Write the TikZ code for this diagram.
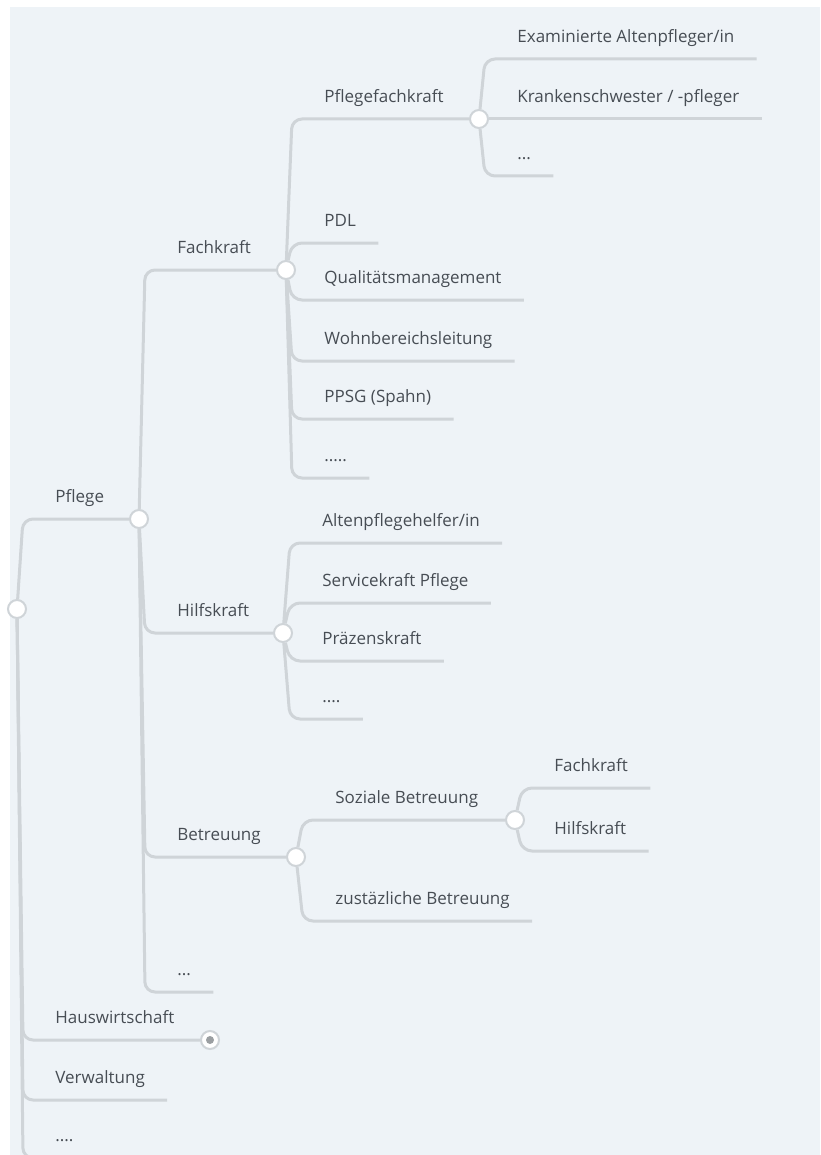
\documentclass[tikz,border=0pt]{standalone}
\usepackage{fontspec}
\setmainfont{Open Sans}
\definecolor{bgcol}{HTML}{EEF3F7}
\definecolor{linecol}{HTML}{CFD4D8}
\definecolor{textcol}{HTML}{474D54}

\begin{document}
\begin{tikzpicture}[x=0.5pt,y=-0.5pt,
  topic/.style={anchor=south west, inner xsep=11pt, inner ysep=6pt,
    text height=6.3pt, text depth=2pt, text=textcol,
    font=\fontsize{8.5pt}{10pt}\selectfont},
  knob/.style={circle, draw=linecol, line width=1pt, fill=white,
    minimum size=9pt, inner sep=0pt},
  fold/.style={knob, path picture={\fill[linecol!75!black]
    (path picture bounding box.center) circle (2pt);}},
  link/.style={draw=linecol, line width=1.5pt, rounded corners=5pt}]

  \useasboundingbox (0,0) rectangle (820,1155);
  \clip (0,0) rectangle (820,1155);
  \fill[white] (0,0) rectangle (820,1155);
  \fill[bgcol] (10,7) rectangle (820,1155);

  % first level
  \draw (17,609)  node[knob]  (root)    {};
  \draw (33,519)  node[topic] (pflege)  {Pflege};
  \draw (139,519) node[knob]  (pflegec) {};
  \draw (33,1040) node[topic] (hausw)   {Hauswirtschaft};
  \draw (210,1040) node[fold] (hauswc)  {};
  \draw (33,1100) node[topic] (verw)    {Verwaltung};
  \draw (33,1158) node[topic] (rest)    {....};

  % Pflege
  \draw (155,270) node[topic] (fach)    {Fachkraft};
  \draw (286,270) node[knob]  (fachc)   {};
  \draw (155,633) node[topic] (hilf)    {Hilfskraft};
  \draw (283,633) node[knob]  (hilfc)   {};
  \draw (155,857) node[topic] (betr)    {Betreuung};
  \draw (296,857) node[knob]  (betrc)   {};
  \draw (155,992) node[topic] (pmore)   {...};

  % Fachkraft
  \draw (302,119) node[topic] (pfk)     {Pflegefachkraft};
  \draw (479,119) node[knob]  (pfkc)    {};
  \draw (302,243) node[topic] (pdl)     {PDL};
  \draw (302,300) node[topic] (qm)      {Qualitätsmanagement};
  \draw (302,361) node[topic] (wbl)     {Wohnbereichsleitung};
  \draw (302,419) node[topic] (ppsg)    {PPSG (Spahn)};
  \draw (302,478) node[topic] (fmore)   {.....};

  % Pflegefachkraft
  \draw (495,59)  node[topic] (exam)    {Examinierte Altenpfleger/in};
  \draw (495,119) node[topic] (kranken) {Krankenschwester / -pfleger};
  \draw (495,176) node[topic] (pfkmore) {...};

  % Hilfskraft
  \draw (300,543) node[topic] (aph)     {Altenpflegehelfer/in};
  \draw (300,603) node[topic] (service) {Servicekraft Pflege};
  \draw (300,661) node[topic] (praesenz) {Präzenskraft};
  \draw (300,719) node[topic] (hmore)   {....};

  % Betreuung
  \draw (313,820) node[topic] (sozial)  {Soziale Betreuung};
  \draw (515,820) node[knob]  (sozialc) {};
  \draw (313,921) node[topic] (zus)     {zustäzliche Betreuung};
  \draw (532,788) node[topic] (sfach)   {Fachkraft};
  \draw (532,851) node[topic] (shilf)   {Hilfskraft};

  % links
  \draw[link] (root) -- ([xshift=-5pt]pflege.south west) -- (pflegec);
  \draw[link] (root) -- ([xshift=-5pt]hausw.south west) -- (hauswc);
  \draw[link] (root) -- ([xshift=-5pt]verw.south west) -- (verw.south east);
  \draw[link] (root) -- ([xshift=-5pt]rest.south west) -- (rest.south east);

  \draw[link] (pflegec) -- ([xshift=-5pt]fach.south west) -- (fachc);
  \draw[link] (pflegec) -- ([xshift=-5pt]hilf.south west) -- (hilfc);
  \draw[link] (pflegec) -- ([xshift=-5pt]betr.south west) -- (betrc);
  \draw[link] (pflegec) -- ([xshift=-5pt]pmore.south west) -- (pmore.south east);

  \draw[link] (fachc) -- ([xshift=-5pt]pfk.south west) -- (pfkc);
  \draw[link] (fachc) -- ([xshift=-5pt]pdl.south west) -- (pdl.south east);
  \draw[link] (fachc) -- ([xshift=-5pt]qm.south west) -- (qm.south east);
  \draw[link] (fachc) -- ([xshift=-5pt]wbl.south west) -- (wbl.south east);
  \draw[link] (fachc) -- ([xshift=-5pt]ppsg.south west) -- (ppsg.south east);
  \draw[link] (fachc) -- ([xshift=-5pt]fmore.south west) -- (fmore.south east);

  \draw[link] (pfkc) -- ([xshift=-5pt]exam.south west) -- (exam.south east);
  \draw[link] (pfkc) -- ([xshift=-5pt]kranken.south west) -- (kranken.south east);
  \draw[link] (pfkc) -- ([xshift=-5pt]pfkmore.south west) -- (pfkmore.south east);

  \draw[link] (hilfc) -- ([xshift=-5pt]aph.south west) -- (aph.south east);
  \draw[link] (hilfc) -- ([xshift=-5pt]service.south west) -- (service.south east);
  \draw[link] (hilfc) -- ([xshift=-5pt]praesenz.south west) -- (praesenz.south east);
  \draw[link] (hilfc) -- ([xshift=-5pt]hmore.south west) -- (hmore.south east);

  \draw[link] (betrc) -- ([xshift=-5pt]sozial.south west) -- (sozialc);
  \draw[link] (betrc) -- ([xshift=-5pt]zus.south west) -- (zus.south east);
  \draw[link] (sozialc) -- ([xshift=-5pt]sfach.south west) -- (sfach.south east);
  \draw[link] (sozialc) -- ([xshift=-5pt]shilf.south west) -- (shilf.south east);

\end{tikzpicture}
\end{document}
